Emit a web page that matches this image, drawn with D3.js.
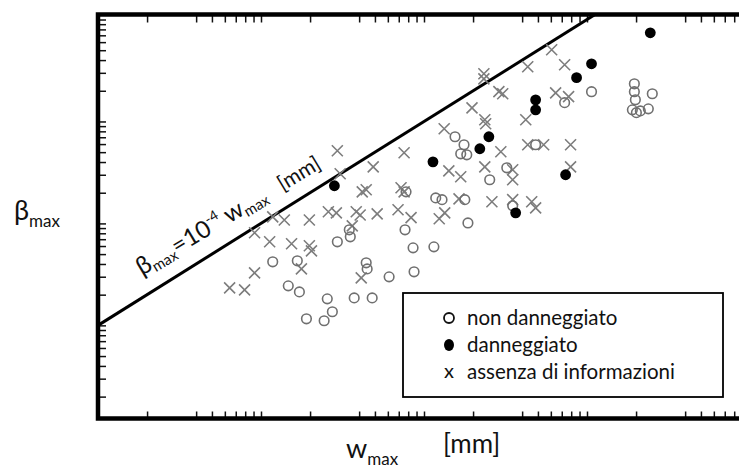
<!DOCTYPE html>
<html>
<head>
<meta charset="utf-8">
<script src="https://cdn.jsdelivr.net/npm/d3@7"></script>
<style>
  body { margin: 0; background: #fff; }
  svg { display: block; font-family: Lato, "Open Sans", sans-serif; }
</style>
</head>
<body>
<script>
// [w_max (mm), beta_max]
const nonDanneggiato = [
  [11.8, 4.20e-4], [16.7, 4.30e-4], [14.7, 2.44e-4], [17.2, 2.13e-4], [19.0, 1.16e-4],
  [24.4, 1.11e-4], [25.5, 1.82e-4], [27.4, 1.36e-4], [29.4, 6.60e-4], [34.8, 8.66e-4],
  [35.3, 7.39e-4], [37.3, 1.86e-4], [44.2, 4.11e-4], [44.8, 3.58e-4], [48.1, 1.86e-4],
  [61.1, 2.99e-4], [76.5, 8.66e-4], [77.6, 2.04e-3], [85.7, 5.76e-4], [86.9, 3.35e-4],
  [115, 5.89e-4], [118, 1.78e-3], [129, 1.71e-3], [155, 7.08e-3], [176, 5.91e-3],
  [168, 4.82e-3], [183, 4.71e-3], [178, 1.71e-3], [186, 1.01e-3], [253, 2.68e-3],
  [322, 3.51e-3], [350, 1.49e-3], [484, 5.91e-3], [729, 1.53e-2], [1066, 1.96e-2],
  [1952, 2.34e-2], [1952, 1.96e-2], [1980, 1.63e-2], [2515, 1.87e-2], [1898, 1.30e-2],
  [2009, 1.22e-2], [2124, 1.27e-2], [2378, 1.33e-2]
];
const danneggiato = [
  [28.2, 2.34e-3], [113.5, 4.02e-3], [220, 5.40e-3], [250, 7.08e-3], [365, 1.27e-3],
  [484, 1.63e-2], [484, 1.30e-2], [739, 3.00e-3], [863, 2.69e-2], [1066, 3.68e-2],
  [2445, 7.41e-2]
];
const assenzaInfo = [
  [6.42, 2.33e-4], [7.93, 2.23e-4], [9.13, 3.27e-4], [9.13, 8.09e-4], [11.8, 1.16e-3],
  [13.9, 1.08e-3], [11.3, 6.60e-4], [15.4, 6.31e-4], [19.8, 1.08e-3], [19.8, 6.03e-4],
  [20.4, 5.38e-4], [17.7, 3.58e-4], [25.9, 1.30e-3], [29.0, 1.27e-3], [29.4, 5.16e-3],
  [30.6, 3.07e-3], [41.2, 2.92e-4], [36.3, 9.47e-4], [38.4, 1.30e-3], [40.6, 1.21e-3],
  [41.8, 2.04e-3], [44.2, 2.14e-3], [48.8, 3.59e-3], [51.6, 1.24e-3], [69.3, 1.36e-3],
  [72.3, 2.24e-3], [75.5, 2.04e-3], [75.5, 4.93e-3], [83.3, 1.14e-3], [124, 1.11e-3],
  [134, 1.27e-3], [142, 3.28e-3], [168, 2.87e-3], [164, 1.74e-3], [133, 8.48e-3],
  [197, 1.36e-2], [233, 2.94e-2], [233, 2.62e-2], [236, 1.04e-2], [239, 9.49e-3],
  [236, 3.59e-3], [261, 1.63e-3], [288, 1.96e-2], [304, 1.87e-2], [296, 5.04e-3],
  [350, 3.36e-3], [350, 2.68e-3], [350, 1.71e-3], [421, 1.04e-2], [433, 5.91e-3],
  [542, 5.91e-3], [433, 3.44e-2], [458, 1.63e-3], [484, 1.42e-3], [607, 5.05e-2],
  [729, 3.60e-2], [642, 1.91e-2], [771, 1.75e-2], [793, 5.91e-3], [793, 3.59e-3]
];

// tick marks: decades times the multipliers drawn in the original
const xDecades = [1, 10, 100, 1000];
const xMultipliers = [1, 2, 4, 5, 6, 7, 8, 9];
const yDecades = [1e-5, 1e-4, 1e-3, 1e-2, 1e-1];
const yMultipliers = [1, 2, 3, 4, 5, 6, 7, 8, 9];

const legendLabels = ['non danneggiato', 'danneggiato', 'assenza di informazioni'];
const lineCoeff = 1e-4;   // beta_max = 1e-4 * w_max

const width = 739, height = 468;
const svg = d3.select('body').append('svg')
  .attr('width', width)
  .attr('height', height);

const x = d3.scaleLog().domain([1, 10000]).range([98, 750]);
const y = d3.scaleLog().domain([1.22e-5, 0.112]).range([418.5, 14.5]);

const [x0, x1] = x.range();
const [yBottom, yTop] = y.range();

svg.append('defs').append('clipPath').attr('id', 'plot')
  .append('rect')
  .attr('x', x0).attr('y', yTop)
  .attr('width', x1 - x0).attr('height', yBottom - yTop);

// ticks
const xTicks = xDecades.flatMap(d => xMultipliers.map(m => d * m))
  .filter(v => v > x.domain()[0] && v < x.domain()[1]);
const yTicks = yDecades.flatMap(d => yMultipliers.map(m => d * m))
  .filter(v => v > y.domain()[0] && v < y.domain()[1]);

function styleAxis(g) {
  g.select('.domain').remove();
  g.selectAll('.tick line').attr('stroke', '#111').attr('stroke-width', 1.5);
  g.selectAll('.tick text').remove();
}

svg.append('g').attr('transform', `translate(0,${yTop})`)
  .call(d3.axisBottom(x).tickValues(xTicks).tickSize(8).tickFormat(''))
  .call(styleAxis);
svg.append('g').attr('transform', `translate(0,${yBottom})`)
  .call(d3.axisTop(x).tickValues(xTicks).tickSize(7).tickFormat(''))
  .call(styleAxis);
svg.append('g').attr('transform', `translate(${x0},0)`)
  .call(d3.axisRight(y).tickValues(yTicks).tickSize(8).tickFormat(''))
  .call(styleAxis);

// reference line
const lineGen = d3.line().x(d => x(d)).y(d => y(d * lineCoeff));
svg.append('path')
  .datum(x.domain())
  .attr('clip-path', 'url(#plot)')
  .attr('d', lineGen)
  .attr('fill', 'none')
  .attr('stroke', '#000')
  .attr('stroke-width', 3);

const pts = svg.append('g').attr('clip-path', 'url(#plot)');

// x marks
const s = 5.5;
pts.selectAll('path.cross')
  .data(assenzaInfo)
  .enter()
  .append('path')
  .attr('class', 'cross')
  .attr('d', d => {
    const cx = x(d[0]), cy = y(d[1]);
    return `M${cx - s},${cy - s}L${cx + s},${cy + s}M${cx - s},${cy + s}L${cx + s},${cy - s}`;
  })
  .attr('stroke', '#7d7d7d')
  .attr('stroke-width', 1.6)
  .attr('fill', 'none');

pts.selectAll('circle.open')
  .data(nonDanneggiato)
  .enter()
  .append('circle')
  .attr('class', 'open')
  .attr('cx', d => x(d[0]))
  .attr('cy', d => y(d[1]))
  .attr('r', 4.8)
  .attr('fill', 'none')
  .attr('stroke', '#707070')
  .attr('stroke-width', 1.6);

pts.selectAll('circle.full')
  .data(danneggiato)
  .enter()
  .append('circle')
  .attr('class', 'full')
  .attr('cx', d => x(d[0]))
  .attr('cy', d => y(d[1]))
  .attr('r', 5.4)
  .attr('fill', '#000');

// frame
svg.append('path')
  .attr('d', `M${x1},${yTop}H${x0}V${yBottom}H${x1}`)
  .attr('fill', 'none')
  .attr('stroke', '#000')
  .attr('stroke-width', 4.5);

// label along the line
const lbl = svg.append('text')
  .attr('transform', 'translate(142,276) rotate(-31)')
  .attr('fill', '#111');
lbl.append('tspan').attr('font-size', 25).text('β');
lbl.append('tspan').attr('font-size', 15).attr('dy', 4).text('max');
lbl.append('tspan').attr('font-size', 24).attr('dy', -4).text('=10');
lbl.append('tspan').attr('font-size', 14).attr('dy', -10).text('-4');
lbl.append('tspan').attr('font-size', 24).attr('dy', 10).text(' w');
lbl.append('tspan').attr('font-size', 15).attr('dy', 4).text('max');
lbl.append('tspan').attr('font-size', 21).attr('dy', -4).attr('xml:space', 'preserve').text('   [mm]');

// axis titles
const yTitle = svg.append('text').attr('x', 14).attr('y', 220).attr('fill', '#111');
yTitle.append('tspan').attr('font-size', 27).text('β');
yTitle.append('tspan').attr('font-size', 17).attr('dy', 7).text('max');

const xTitle = svg.append('text').attr('x', 346).attr('y', 458).attr('fill', '#111');
xTitle.append('tspan').attr('font-size', 27).text('w');
xTitle.append('tspan').attr('font-size', 17).attr('dy', 7).text('max');
svg.append('text').attr('x', 443).attr('y', 453).attr('font-size', 26)
  .attr('fill', '#111').text('[mm]');

// legend
const legend = svg.append('g');
legend.append('rect')
  .attr('x', 403).attr('y', 293).attr('width', 320).attr('height', 104)
  .attr('fill', '#fff').attr('stroke', '#000').attr('stroke-width', 1.8);

const rowY = d3.scalePoint().domain(legendLabels).range([318, 372]);
legend.append('circle')
  .attr('cx', 449).attr('cy', rowY(legendLabels[0])).attr('r', 5)
  .attr('fill', 'none').attr('stroke', '#111').attr('stroke-width', 1.8);
legend.append('ellipse')
  .attr('cx', 449).attr('cy', rowY(legendLabels[1])).attr('rx', 5).attr('ry', 6)
  .attr('fill', '#000');
legend.append('text')
  .attr('x', 449).attr('y', rowY(legendLabels[2]) + 6)
  .attr('text-anchor', 'middle').attr('font-size', 20).attr('fill', '#111').text('x');
legend.selectAll('text.lab')
  .data(legendLabels)
  .enter()
  .append('text')
  .attr('class', 'lab')
  .attr('x', 467)
  .attr('y', d => rowY(d) + 7)
  .attr('font-size', 20.5)
  .attr('fill', '#111')
  .text(d => d);
</script>
</body>
</html>
